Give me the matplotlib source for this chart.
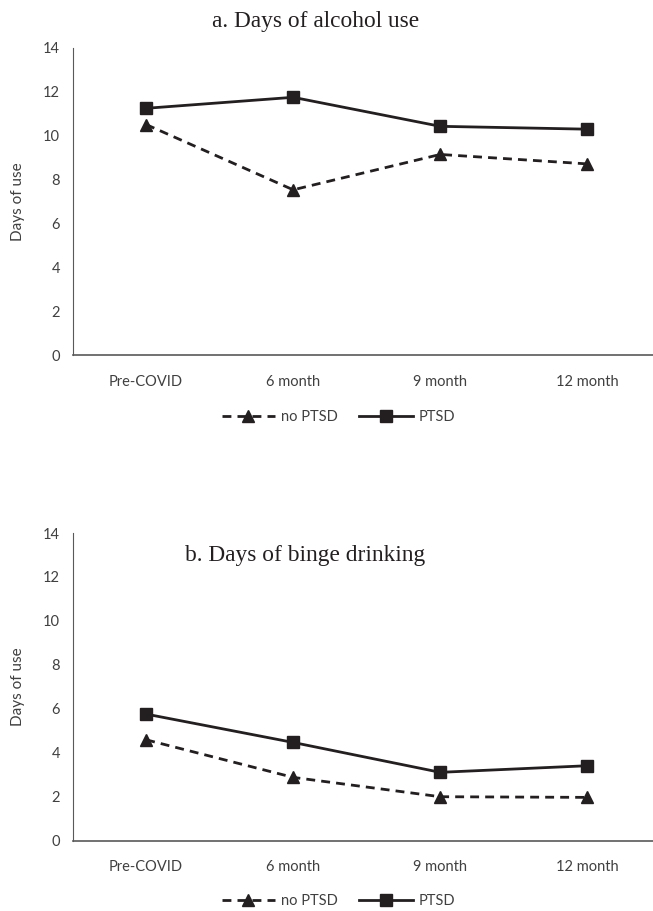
import numpy as np
import matplotlib
matplotlib.use("Agg")
import matplotlib.pyplot as plt

timepoints = ["Pre-COVID", "6 month", "9 month", "12 month"]

alcohol_no_ptsd = [10.50, 7.53, 9.14, 8.71]
alcohol_ptsd = [11.24, 11.74, 10.42, 10.29]

binge_no_ptsd = [4.59, 2.88, 2.00, 1.97]
binge_ptsd = [5.76, 4.47, 3.11, 3.41]

yticks = [0, 2, 4, 6, 8, 10, 12, 14]

plt.rcParams['font.family'] = ['Lato', 'DejaVu Sans']
tick_color = '#404040'
line_color = '#231f20'

fig = plt.figure(figsize=(6.53, 9.11), dpi=100)
ax_a = fig.add_axes([0.1113, 0.6100, 0.9005, 0.3377])
ax_b = fig.add_axes([0.1113, 0.0772, 0.9005, 0.3377])

x = np.arange(len(timepoints)) + 0.5


def draw_panel(ax, no_ptsd, ptsd):
    ax.plot(x, no_ptsd, color=line_color, linestyle=(0, (3.2, 2.2)), linewidth=2.0,
            marker='^', markersize=9, label="no PTSD")
    ax.plot(x, ptsd, color=line_color, linestyle='-', linewidth=2.0,
            marker='s', markersize=9, label="PTSD")
    ax.set_xlim(0, 4)
    ax.set_ylim(0, 14)
    ax.set_xticks(x)
    ax.set_xticklabels(timepoints)
    ax.set_yticks(yticks)
    ax.tick_params(length=0, labelsize=10.5, colors=tick_color, pad=9)
    ax.tick_params(axis='x', pad=14)
    ax.spines['top'].set_visible(False)
    ax.spines['right'].set_visible(False)
    ax.spines['left'].set_color('#595959')
    ax.spines['left'].set_linewidth(0.8)
    ax.spines['bottom'].set_color('#595959')
    ax.spines['bottom'].set_linewidth(1.2)
    ax.set_ylabel("Days of use", fontsize=11, color=tick_color, labelpad=13)


draw_panel(ax_a, alcohol_no_ptsd, alcohol_ptsd)
draw_panel(ax_b, binge_no_ptsd, binge_ptsd)

for ax, ly in [(ax_a, 0.5426), (ax_b, 0.011)]:
    h, l = ax.get_legend_handles_labels()
    fig.legend(h, l, loc='center', bbox_to_anchor=(0.518, ly), ncol=2, frameon=False,
               fontsize=10.5, handlelength=3.7, handletextpad=0.35, columnspacing=1.5,
               labelcolor=tick_color)

fig.text(0.484, 1 - 21 / 911, "a. Days of alcohol use", ha='center', va='center',
         fontsize=16.8, family='Liberation Serif', color='#231f20')
fig.text(0.467, 1 - 555 / 911, "b. Days of binge drinking", ha='center', va='center',
         fontsize=16.8, family='Liberation Serif', color='#231f20')

fig.savefig("out.png", dpi=100)
